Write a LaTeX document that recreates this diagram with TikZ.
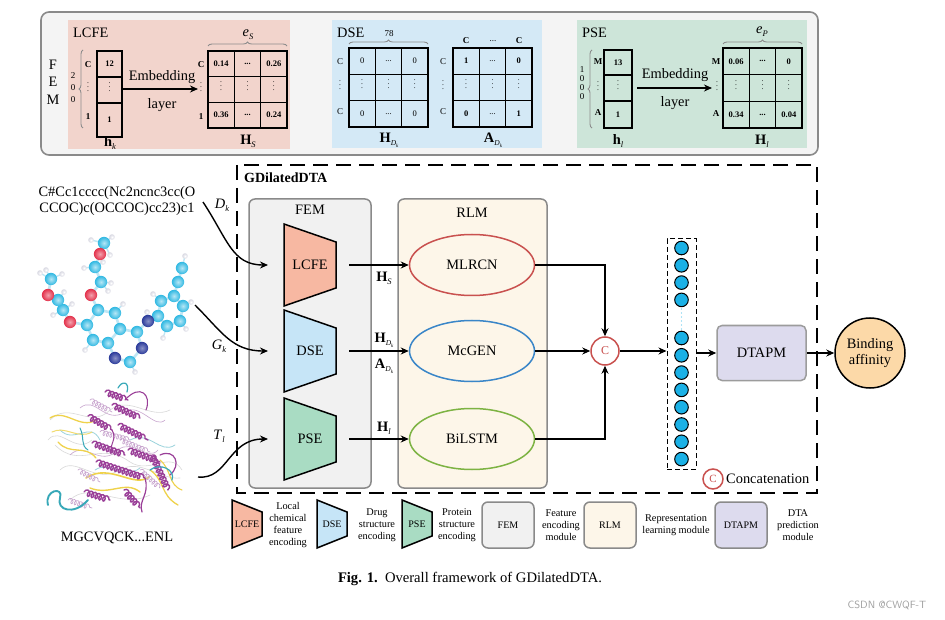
\documentclass[tikz,border=0pt]{standalone}
\usepackage{fontspec}
\setmainfont{Liberation Serif}
\usetikzlibrary{arrows.meta,decorations.pathreplacing,decorations.pathmorphing,shapes.geometric,calc}
\definecolor{panelgray}{HTML}{F4F4F4}
\definecolor{panelborder}{HTML}{8A8A8A}
\definecolor{lcfebg}{HTML}{F2D4CC}
\definecolor{dsebg}{HTML}{D4E9F6}
\definecolor{psebg}{HTML}{CDE5D9}
\definecolor{lcfecol}{HTML}{F7B8A2}
\definecolor{dsecol}{HTML}{C6E5F7}
\definecolor{psecol}{HTML}{A9DCC3}
\definecolor{femcol}{HTML}{F1F1F1}
\definecolor{rlmcol}{HTML}{FDF6E9}
\definecolor{dtapmcol}{HTML}{DDDBEE}
\definecolor{bindcol}{HTML}{FCD9A8}
\definecolor{redc}{HTML}{C9514F}
\definecolor{bluec}{HTML}{3A86C8}
\definecolor{greenc}{HTML}{7DB343}
\definecolor{neuron}{HTML}{1BB1E6}
\definecolor{bracegray}{HTML}{8C8C8C}
\definecolor{protpurple}{HTML}{9A3F98}
\definecolor{protlilac}{HTML}{C9A6CF}
\definecolor{protyellow}{HTML}{EFD24B}
\definecolor{protcyan}{HTML}{37A8B8}
\definecolor{ccol}{HTML}{2FB8E2}
\definecolor{ocol}{HTML}{E3304A}
\definecolor{ncol}{HTML}{2A3A9A}
\definecolor{hcol}{HTML}{D8D8E2}
\definecolor{bondcol}{HTML}{BFE6F4}

\newcommand{\Bsub}[2]{\textbf{#1}\raisebox{-0.45ex}{\fontsize{8.5}{8.5}\selectfont\textit{#2}}}
\newcommand{\Bsubk}[2]{\textbf{#1}\raisebox{-0.5ex}{\fontsize{7.5}{7.5}\selectfont\textit{#2}\raisebox{-0.4ex}{\fontsize{5}{5}\selectfont\textit{k}}}}
\newcommand{\Isub}[2]{\textit{#1}\raisebox{-0.45ex}{\fontsize{8.5}{8.5}\selectfont\textit{#2}}}
\newcommand{\vd}{{\fontsize{7.5}{7.5}\selectfont\raisebox{0pt}[4pt][1pt]{$\vdots$}}}
\newcommand{\dd}{...}

% trapezoid: fill, cx, cy, half width, left half height, right half height
\newcommand{\trapez}[6]{%
  \draw[trapline, fill=#1] (#2-#4,#3-#5) -- (#2+#4,#3-#6) -- (#2+#4,#3+#6) -- (#2-#4,#3+#5) -- cycle;}
% 3x3 grid
\newcommand{\matgrid}[4]{%
  \draw[cellline] (#1,#2) rectangle (#3,#4);
  \draw[cellline] ({#1+(#3-#1)/3},#2) -- ({#1+(#3-#1)/3},#4);
  \draw[cellline] ({#1+2*(#3-#1)/3},#2) -- ({#1+2*(#3-#1)/3},#4);
  \draw[cellline] (#1,{#2+(#4-#2)/3}) -- (#3,{#2+(#4-#2)/3});
  \draw[cellline] (#1,{#2+2*(#4-#2)/3}) -- (#3,{#2+2*(#4-#2)/3});}
\newcommand{\matvals}[6]{%
  \foreach \t [count=\i from 0] in {#5} {
    \pgfmathsetmacro\cc{mod(\i,3)}
    \pgfmathsetmacro\rr{int(\i/3)}
    \node[cellval] (#6\i) at ({#1+(\cc+0.5)*(#3-#1)/3},{#2+(\rr+0.5)*(#4-#2)/3}) {\t};
  }}

\begin{document}
\begin{tikzpicture}[x=1pt,y=-1pt,
  every node/.style={font=\fontsize{14.4}{16}\selectfont, inner sep=0pt},
  arr/.style={-{Stealth[length=8pt,width=7pt]}, line width=1.4pt},
  cellline/.style={line width=1.3pt},
  cellval/.style={font=\fontsize{8.5}{9}\selectfont},
  smalllab/.style={font=\fontsize{9}{10}\selectfont},
  legtext/.style={font=\fontsize{10.3}{11.8}\selectfont, align=center},
  trapline/.style={line width=1.5pt, line join=miter},
  modbox/.style={draw=panelborder, line width=1.5pt, rounded corners=6pt},
  ellip/.style={ellipse, line width=1.5pt, minimum width=125pt, minimum height=61pt, fill=rlmcol},
  bond/.style={line width=2.6pt, color=bondcol, line cap=round},
  brc/.style={draw=bracegray, line width=0.9pt, decorate, decoration={brace, amplitude=4pt}},
  helix/.style={decorate, decoration={coil, aspect=0.7, segment length=4pt, amplitude=3pt}, line width=1.4pt, color=protpurple},
  thinhelix/.style={decorate, decoration={coil, aspect=0.7, segment length=3.5pt, amplitude=2.5pt}, line width=0.7pt, color=protlilac},
]
\useasboundingbox (0,0) rectangle (945,620);
\fill[white] (0,0) rectangle (945,620);

%================ TOP PANEL =================
\draw[draw=panelborder, line width=1.6pt, fill=panelgray, rounded corners=8pt] (41,12) rectangle (818,155);
\node (femF) at (53,65) {F};
\node (femE) at (53,82) {E};
\node (femM) at (53,100) {M};

% LCFE panel
\fill[lcfebg] (68,20) rectangle (290,149);
\node[anchor=west] (lcfetitle) at (73,33) {LCFE};
\draw[brc] (83,128) -- (83,50);
\node[smalllab] (d2) at (73,76) {2};
\node[smalllab] (d0a) at (73,88) {0};
\node[smalllab] (d0b) at (73,100) {0};
\node[smalllab, font=\fontsize{9}{10}\selectfont\bfseries] (rlC) at (88,65) {C};
\node[smalllab] (rlv) at (88,90) {\vd};
\node[smalllab, font=\fontsize{9}{10}\selectfont\bfseries] (rl1) at (88,117) {1};
\draw[cellline] (97,51) rectangle (122,137);
\draw[cellline] (97,77) -- (122,77);
\draw[cellline] (97,103) -- (122,103);
\node[cellval, font=\fontsize{8.5}{9}\selectfont\bfseries] (hk1) at (109.5,64) {12};
\node[cellval] (hk2) at (109.5,90) {\vd};
\node[cellval, font=\fontsize{8.5}{9}\selectfont\bfseries] (hk3) at (109.5,120) {1};
\node (hklab) at (110,143) {\Bsub{h}{k}};
\draw[arr] (123,89) -- (198,89);
\node (emb1) at (162,77) {Embedding};
\node (lay1) at (162,105) {layer};
\node[smalllab, font=\fontsize{9}{10}\selectfont\bfseries] (hsC) at (201,65) {C};
\node[smalllab] (hsv) at (201,90) {\vd};
\node[smalllab, font=\fontsize{9}{10}\selectfont\bfseries] (hs1) at (201,117) {1};
\matgrid{208}{51}{287}{128}
\matvals{208}{51}{287}{128}{\textbf{0.14},\textbf{\dd},\textbf{0.26},\vd,\vd,\vd,\textbf{0.36},\textbf{\dd},\textbf{0.24}}{hs}
\draw[brc] (208,46) -- (287,46);
\node (es) at (248,35) {\Isub{e}{S}};
\node (hslab) at (248,141) {\Bsub{H}{S}};

% DSE panel
\fill[dsebg] (332,20) rectangle (542,148);
\node[anchor=west] (dsetitle) at (337,33) {DSE};
\draw[brc] (349,44) -- (428,44);
\node[smalllab] (n78) at (389,34) {78};
\node[smalllab] (dC1) at (340,62) {C};
\node[smalllab] (dv1) at (340,88) {\vd};
\node[smalllab] (dC2) at (340,112) {C};
\matgrid{349}{48}{428}{127}
\matvals{349}{48}{428}{127}{0,\dd,0,\vd,\vd,\vd,0,\dd,0}{hd}
\node (hdlab) at (389,140) {\Bsubk{H}{D}};
\node[smalllab] (aC1) at (443,62) {C};
\node[smalllab] (av1) at (443,88) {\vd};
\node[smalllab] (aC2) at (443,112) {C};
\node[smalllab, font=\fontsize{9}{10}\selectfont\bfseries] (cC1) at (466,41) {C};
\node[smalllab] (cdd) at (493,41) {\dd};
\node[smalllab, font=\fontsize{9}{10}\selectfont\bfseries] (cC2) at (519,41) {C};
\matgrid{453}{48}{532}{127}
\matvals{453}{48}{532}{127}{\textbf{1},\dd,\textbf{0},\vd,\vd,\vd,\textbf{0},\dd,\textbf{1}}{ad}
\node (adlab) at (493,140) {\Bsubk{A}{D}};

% PSE panel
\fill[psebg] (577,20) rectangle (807,148);
\node[anchor=west] (psetitle) at (582,33) {PSE};
\node[smalllab] (p1) at (582,70) {1};
\node[smalllab] (p2) at (582,79) {0};
\node[smalllab] (p3) at (582,88) {0};
\node[smalllab] (p4) at (582,97) {0};
\draw[brc] (592,128) -- (592,50);
\node[smalllab, font=\fontsize{9}{10}\selectfont\bfseries] (pM) at (598,62) {M};
\node[smalllab] (pv) at (598,89) {\vd};
\node[smalllab, font=\fontsize{9}{10}\selectfont\bfseries] (pA) at (598,113) {A};
\draw[cellline] (604,50) rectangle (632,128);
\draw[cellline] (604,75) -- (632,75);
\draw[cellline] (604,101) -- (632,101);
\node[cellval, font=\fontsize{8.5}{9}\selectfont\bfseries] (hl1) at (618,62.5) {13};
\node[cellval] (hl2) at (618,88) {\vd};
\node[cellval, font=\fontsize{8.5}{9}\selectfont\bfseries] (hl3) at (618,114.5) {1};
\node (hllab) at (618,141) {\Bsub{h}{l}};
\draw[arr] (637,88) -- (712,88);
\node (emb2) at (675,75) {Embedding};
\node (lay2) at (675,103) {layer};
\node[smalllab, font=\fontsize{9}{10}\selectfont\bfseries] (qM) at (716,62) {M};
\node[smalllab] (qv) at (717,89) {\vd};
\node[smalllab, font=\fontsize{9}{10}\selectfont\bfseries] (qA) at (716,114) {A};
\matgrid{723}{48}{802}{128}
\matvals{723}{48}{802}{128}{\textbf{0.06},\textbf{\dd},\textbf{0},\vd,\vd,\vd,\textbf{0.34},\textbf{\dd},\textbf{0.04}}{hp}
\draw[brc] (723,44) -- (802,44);
\node (ep) at (762,32) {\Isub{e}{P}};
\node (hplab) at (762,141) {\Bsub{H}{l}};

%================ LEFT INPUTS =================
\node[align=center, font=\fontsize{14.4}{16.5}\selectfont] (smiles) at (117,201) {C\#Cc1cccc(Nc2ncnc3cc(O\\CCOC)c(OCCOC)cc23)c1};

% molecule
\coordinate (A1) at (98,310); \coordinate (A2) at (115,313); \coordinate (A3) at (120,329);
\coordinate (A4) at (108,343); \coordinate (A5) at (93,340); \coordinate (A6) at (87,325);
\coordinate (B1) at (137,332); \coordinate (B2) at (142,348); \coordinate (B3) at (130,362);
\coordinate (B4) at (115,358);
\coordinate (NA) at (148,321);
\coordinate (P1) at (158,316); \coordinate (P2) at (161,301); \coordinate (P3) at (174,296);
\coordinate (P4) at (183,306); \coordinate (P5) at (180,321); \coordinate (P6) at (167,326);
\coordinate (E1) at (178,282); \coordinate (E2) at (182,268);
\coordinate (O1) at (91,295); \coordinate (C1) at (101,282); \coordinate (C2) at (95,267);
\coordinate (O2) at (100,254); \coordinate (C3) at (104,243);
\coordinate (O3) at (70,322); \coordinate (C4) at (63,310); \coordinate (C5) at (58,300);
\coordinate (O4) at (48,295); \coordinate (C6) at (51,279);
\foreach \a/\b in {A1/A2,A2/A3,A3/A4,A4/A5,A5/A6,A6/A1,A3/B1,B1/B2,B2/B3,B3/B4,B4/A4,B1/NA,NA/P1,
  P1/P2,P2/P3,P3/P4,P4/P5,P5/P6,P6/P1,P3/E1,E1/E2,A1/O1,O1/C1,C1/C2,C2/O2,O2/C3,A6/O3,O3/C4,C4/C5,C5/O4,O4/C6}
  \draw[bond] (\a) -- (\b);
\foreach \p/\hx/\hy in {C3/91/240,C3/112/237,C3/110/255,C2/84/268,C2/103/262,C1/111/283,C1/108/291,
  C6/40/273,C6/62/274,C6/46/270,C5/64/292,C4/53/315,C4/72/304,A2/123/304,A5/85/350,
  B3/135/372,P2/153/294,P5/186/329,P6/163/338,NA/147/312,E2/185/256,P4/191/302}
  {\draw[bond, line width=1.4pt] (\p) -- (\hx,\hy); \shade[inner color=white, outer color=hcol] (\hx,\hy) circle (2.8);}
\foreach \a in {A1,A2,A3,A4,A5,A6,B1,B3,P1,P2,P3,P4,P5,P6,E1,E2,C1,C2,C3,C4,C5,C6}
  \shade[inner color=ccol!35, outer color=ccol] (\a) circle (6.2);
\foreach \a in {O1,O2,O3,O4} \shade[inner color=ocol!45, outer color=ocol] (\a) circle (6.2);
\foreach \a in {B2,B4,NA} \shade[inner color=ncol!55, outer color=ncol] (\a) circle (6.2);

% protein
\begin{scope}[line cap=round]
\draw[gray!30, line width=0.6pt] (50,420) .. controls (70,400) and (90,430) .. (110,410) .. controls (130,395) and (150,420) .. (170,410);
\draw[gray!30, line width=0.6pt] (55,445) .. controls (80,470) and (100,440) .. (130,462) .. controls (150,475) and (170,450) .. (182,470);
\draw[gray!30, line width=0.6pt] (70,500) .. controls (90,480) and (120,510) .. (150,495);
\draw[gray!30, line width=0.6pt] (48,440) .. controls (60,425) and (75,455) .. (92,440);
\draw[gray!30, line width=0.6pt] (60,470) .. controls (75,455) and (95,485) .. (120,470) .. controls (140,458) and (160,480) .. (180,478);
\draw[protlilac, line width=0.6pt] (80,408) .. controls (95,395) and (105,425) .. (125,412) .. controls (140,402) and (155,430) .. (165,420);
\draw[protlilac, line width=0.6pt] (70,455) .. controls (85,440) and (100,468) .. (118,450) .. controls (132,438) and (148,462) .. (158,450);
\draw[protcyan!50, line width=0.8pt] (60,430) .. controls (75,445) and (90,420) .. (100,440);
\draw[protcyan!50, line width=0.8pt] (130,440) .. controls (150,430) and (160,455) .. (175,445);
\draw[protcyan!50, line width=0.8pt] (95,470) .. controls (110,460) and (125,480) .. (140,468);
\draw[protyellow, line width=1.3pt] (50,418) .. controls (65,408) and (80,430) .. (96,420);
\draw[protyellow!80, line width=1pt] (52,432) .. controls (65,425) and (78,440) .. (92,432);
\draw[protyellow, line width=1.3pt] (58,442) .. controls (70,456) and (85,444) .. (96,458);
\draw[protyellow, line width=1.6pt] (86,478) .. controls (110,462) and (135,490) .. (150,476);
\draw[protyellow, line width=1.4pt] (90,488) .. controls (110,496) and (125,480) .. (140,492);
\draw[protyellow, line width=1.3pt] (150,470) .. controls (165,480) and (160,495) .. (178,505);
\draw[protyellow, line width=1.1pt] (160,460) .. controls (172,470) and (168,485) .. (182,490);
\draw[thinhelix] (90,400) -- (112,412);
\draw[thinhelix] (78,470) -- (100,482);
\draw[thinhelix] (68,500) -- (92,508);
\draw[thinhelix] (140,470) -- (160,488);
\draw[thinhelix] (100,432) -- (130,440);
\draw[thinhelix] (120,440) -- (150,452);
\draw[helix] (105,392) -- (128,400);
\draw[helix] (112,405) -- (140,418);
\draw[helix] (88,416) -- (112,430);
\draw[helix] (118,425) -- (148,440);
\draw[helix] (92,443) -- (125,455);
\draw[helix] (128,450) -- (160,462);
\draw[helix] (96,462) -- (145,478);
\draw[helix] (124,490) -- (140,508);
\draw[helix] (152,455) -- (168,490);
\draw[helix] (84,492) -- (110,500);
\draw[protpurple, line width=1.1pt] (125,400) .. controls (140,383) and (152,395) .. (146,410);
\draw[protpurple, line width=1.2pt] (160,455) .. controls (175,448) and (182,465) .. (170,475);
\draw[protpurple, line width=1.2pt] (145,478) .. controls (150,495) and (138,500) .. (142,512);
\draw[protpurple, line width=1pt] (112,430) .. controls (118,440) and (108,445) .. (112,452);
\draw[protcyan, line width=1.9pt] (48,505) .. controls (44,490) and (64,486) .. (60,498) .. controls (56,510) and (74,516) .. (88,500);
\draw[protcyan, line width=1.2pt] (118,388) .. controls (122,380) and (130,382) .. (127,392);
\draw[protcyan, line width=1.2pt] (150,470) .. controls (160,462) and (176,470) .. (172,480);
\draw[protcyan, line width=1pt] (80,428) .. controls (85,438) and (80,445) .. (88,450);
\end{scope}
\node (protseq) at (117,538) {MGCVQCK...ENL};

%================ MAIN FRAME =================
\draw[line width=1.7pt, dash pattern=on 15pt off 8pt] (237,165) rectangle (817,493);
\node[anchor=west, font=\fontsize{14}{16}\selectfont\bfseries] (title) at (244,178) {GDilatedDTA};

\node[modbox, fill=femcol, minimum width=122pt, minimum height=289pt] (fem) at (310,343.5) {};
\node (femlab) at (310,210) {FEM};
\node[modbox, fill=rlmcol, minimum width=149pt, minimum height=289pt] (rlm) at (472.5,343.5) {};
\node (rlmlab) at (472,213) {RLM};

\trapez{lcfecol}{310}{265}{26}{41}{23}
\node (lcfe) at (310,265) {LCFE};
\trapez{dsecol}{310}{351}{26}{41}{23}
\node (dse) at (310,351) {DSE};
\trapez{psecol}{310}{439}{26}{41}{23}
\node (pse) at (310,439) {PSE};

\node[ellip, draw=redc] (mlrcn) at (472,265) {MLRCN};
\node[ellip, draw=bluec] (mcgen) at (472,351) {McGEN};
\node[ellip, draw=greenc] (bilstm) at (472,439) {BiLSTM};

\coordinate (lcfeout) at (349,265);
\coordinate (dseout) at (349,351);
\coordinate (pseout) at (349,439);
\draw[arr] (lcfeout) -- (mlrcn.west);
\draw[arr] (dseout) -- (mcgen.west);
\draw[arr] (pseout) -- (bilstm.west);
\node (hs2) at (384,278) {\Bsub{H}{S}};
\node (hd2) at (384,340) {\Bsubk{H}{D}};
\node (ad2) at (384,366) {\Bsubk{A}{D}};
\node (hl2b) at (384,428) {\Bsub{H}{l}};

% input curves
\coordinate (dstart) at (203,202);
\coordinate (gstart) at (195,305);
\coordinate (tstart) at (198,477);
\coordinate (lcfein) at (268,265);
\coordinate (dsein) at (268,351);
\coordinate (psein) at (268,439);
\draw[arr] (dstart) .. controls (228,240) and (232,265) .. (lcfein);
\draw[arr] (gstart) .. controls (222,332) and (232,351) .. (dsein);
\draw[arr] (tstart) .. controls (228,480) and (228,439) .. (psein);
\node (dk) at (222,205) {\Isub{D}{k}};
\node (gk) at (219,346) {\Isub{G}{k}};
\node (tl) at (219,436) {\Isub{T}{l}};

% concatenation
\node[circle, draw=redc, line width=1.5pt, fill=white, minimum size=28pt, text=redc, font=\fontsize{12}{12}\selectfont] (cat) at (605,351) {C};
\draw[arr] (mlrcn.east) -| (cat.north);
\draw[arr] (mcgen.east) -- (cat.west);
\draw[arr] (bilstm.east) -| (cat.south);

% neuron column
\node[draw, line width=1pt, dash pattern=on 5pt off 3pt, minimum width=29pt, minimum height=230pt] (col) at (681.5,354) {};
\foreach \yy [count=\k] in {248,265.3,282.6,299.9,338,355.3,372.6,389.9,407.2,424.5,441.8,459.1}
  \node[circle, draw, line width=1pt, fill=neuron, minimum size=13.6pt] (n\k) at (681.5,\yy) {};
\foreach \yy in {309,313,...,329} \fill[neuron!70] (681.5,\yy) circle (0.6);
\draw[arr] (cat.east) -- (cat.east -| col.west);

\node[draw=panelborder!85, line width=1.5pt, rounded corners=5pt, fill=dtapmcol, minimum width=89pt, minimum height=55pt] (dtapm) at (761.5,353) {DTAPM};
\draw[arr] (dtapm.west -| col.east) -- (dtapm.west);
\node[circle, draw, line width=1.5pt, fill=bindcol, minimum size=70pt, align=center, font=\fontsize{14.4}{16.5}\selectfont] (bind) at (870,353) {Binding\\affinity};
\draw[arr] (dtapm.east) -- (bind.west);

\node[circle, draw=redc, line width=1.5pt, minimum size=20pt, text=redc, font=\fontsize{11}{11}\selectfont] (catleg) at (713,479) {C};
\node[anchor=west] (catlab) at (726,479) {Concatenation};

%================ LEGEND =================
\trapez{lcfecol}{247}{524}{15}{24}{12}
\node[font=\fontsize{10}{11}\selectfont] (lglcfe) at (247,524) {LCFE};
\node[legtext] (lgt1) at (288,525) {Local\\chemical\\feature\\encoding};
\trapez{dsecol}{332}{524}{15}{24}{12}
\node[font=\fontsize{10}{11}\selectfont] (lgdse) at (332,524) {DSE};
\node[legtext] (lgt2) at (377,525) {Drug\\structure\\encoding};
\trapez{psecol}{417}{524}{15}{24}{12}
\node[font=\fontsize{10}{11}\selectfont] (lgpse) at (417,524) {PSE};
\node[legtext] (lgt3) at (457,525) {Protein\\structure\\encoding};
\node[modbox, fill=femcol, minimum width=52pt, minimum height=46pt, font=\fontsize{10}{11}\selectfont] (lgfem) at (508,525) {FEM};
\node[legtext] (lgt4) at (561,525) {Feature\\encoding\\module};
\node[modbox, fill=rlmcol, minimum width=52pt, minimum height=46pt, font=\fontsize{10}{11}\selectfont] (lgrlm) at (610,525) {RLM};
\node[legtext] (lgt5) at (676,525) {Representation\\learning module};
\node[modbox, fill=dtapmcol, minimum width=52pt, minimum height=46pt, font=\fontsize{10}{11}\selectfont] (lgdtapm) at (741,525) {DTAPM};
\node[legtext] (lgt6) at (798,525) {DTA\\prediction\\module};

\node[font=\fontsize{14.6}{16}\selectfont] (caption) at (470,579) {\textbf{Fig. 1.}\enspace Overall framework of GDilatedDTA.};
\node[font=\fontsize{10.5}{12}\selectfont\sffamily, text=gray!75] (wm) at (887,605) {CSDN @CWQF-T};
\end{tikzpicture}
\end{document}
